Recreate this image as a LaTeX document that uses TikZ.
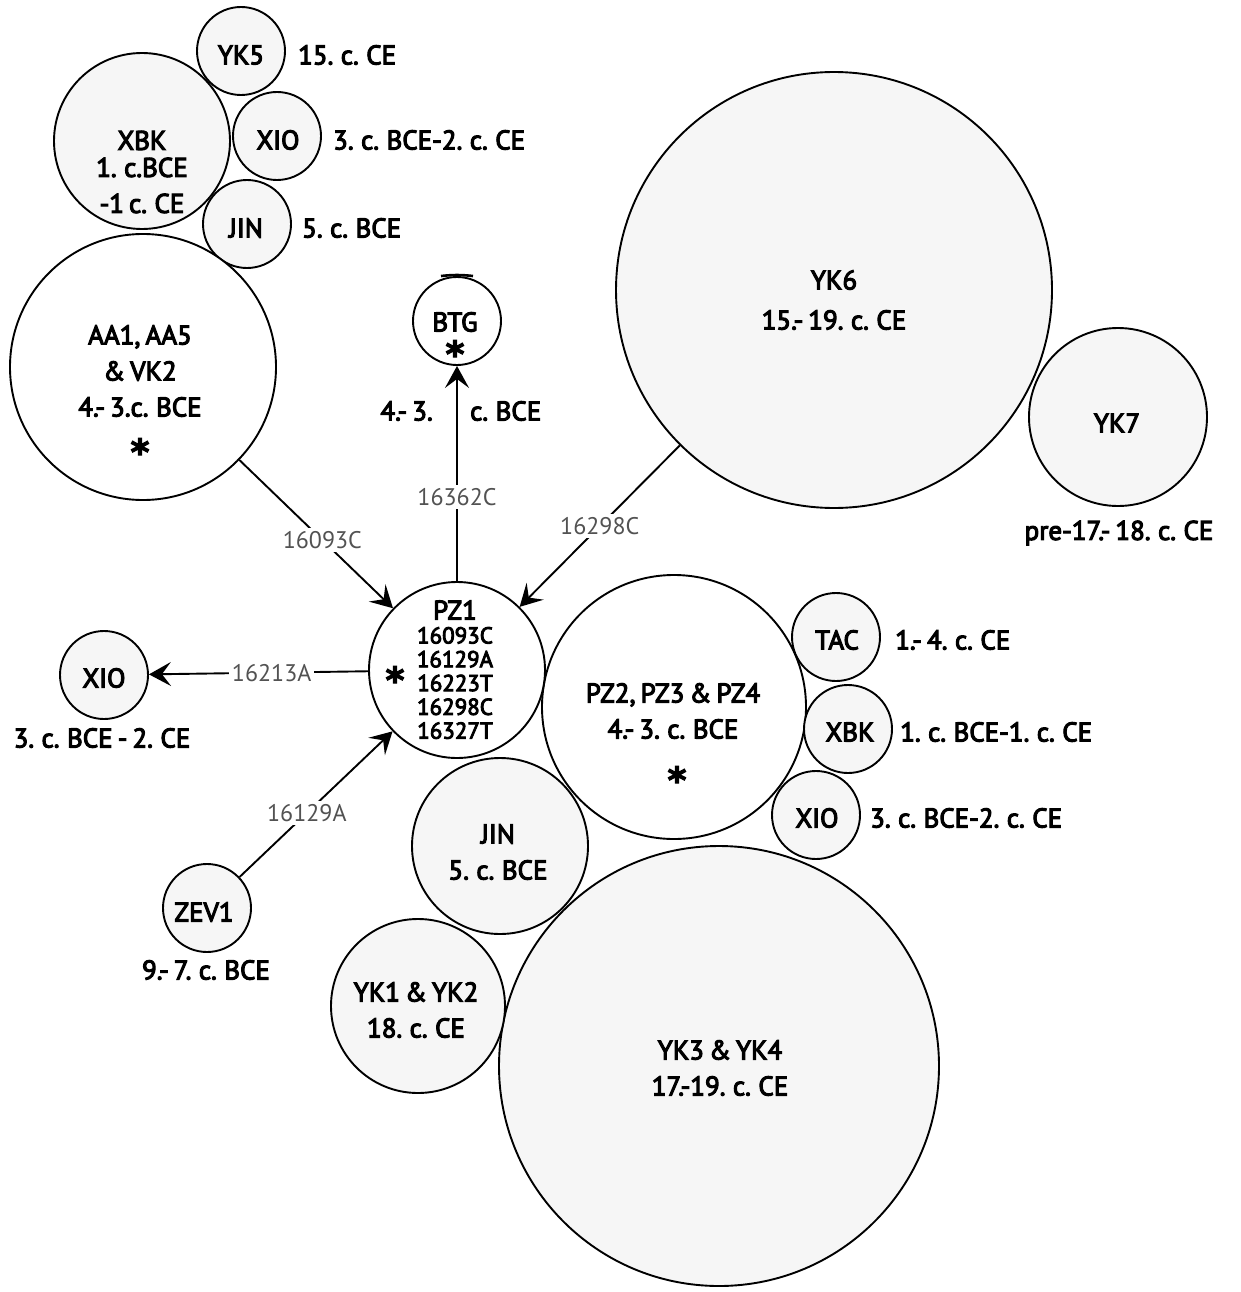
\documentclass[tikz,border=0pt]{standalone}
\usepackage{fontspec}
\setmainfont{PT Sans}[WordSpace=0.7, FakeBold=4]
\newfontfamily\mutfam{PT Sans}
\newfontfamily\starfam{DejaVu Sans Bold}[FakeBold=3]
\usetikzlibrary{arrows.meta}
\definecolor{bubble}{gray}{0.965}
\definecolor{mutgray}{gray}{0.32}
\newcommand\labfont{\fontsize{27}{36}\selectfont}
\newcommand\bigsepfont{\fontsize{27}{40}\selectfont}
\newcommand\numfont{\fontsize{23}{23.8}\selectfont}
\newcommand\mutfont{\mutfam\fontsize{24}{24}\selectfont}
\newcommand\starfont{\starfam\fontsize{36}{36}\selectfont}
\tikzset{
  bub/.style={circle, draw, line width=1.9pt, inner sep=0pt, fill=bubble},
  wbub/.style={bub, fill=white},
  lab/.style={font=\labfont, inner sep=0pt, align=center},
  side/.style={lab, anchor=west},
  nums/.style={font=\numfont, inner sep=0pt, align=center},
  mut/.style={font=\mutfont, text=mutgray, fill=white, inner sep=3pt},
  arr/.style={line width=1.9pt, -{Stealth[length=22pt,width=24pt,inset=9pt]}},
  star/.style={font=\starfont, inner sep=0pt, anchor=base},
}
\begin{document}
\begin{tikzpicture}[x=1pt, y=-1pt]
\useasboundingbox (0,0) rectangle (1240,1292);

% ---------- circles ----------
\node[bub,  minimum size=176pt] (xbkt) at (142,141) {};
\node[bub,  minimum size=88pt]  (yk5)  at (241,51)  {};
\node[bub,  minimum size=88pt]  (xiot) at (277,136) {};
\node[bub,  minimum size=88pt]  (jint) at (247,224) {};
\node[wbub, minimum size=266pt] (aa1)  at (143,367) {};
\node[wbub, minimum size=88pt]  (btg)  at (457,321) {};
\node[bub,  minimum size=436pt] (yk6)  at (834,290) {};
\node[bub,  minimum size=178pt] (yk7)  at (1118,417) {};
\node[bub,  minimum size=88pt]  (xiol) at (104,675) {};
\node[bub,  minimum size=88pt]  (zev1) at (207,908) {};
\node[bub,  minimum size=440pt] (yk3)  at (719,1066) {};
\node[bub,  minimum size=174pt] (yk1)  at (418,1006) {};
\node[bub,  minimum size=176pt] (jinb) at (500,846) {};
\node[wbub, minimum size=264pt] (pz2)  at (674,707) {};
\node[bub,  minimum size=88pt]  (tac)  at (836,637) {};
\node[bub,  minimum size=88pt]  (xbkr) at (848,729) {};
\node[bub,  minimum size=88pt]  (xior) at (816,815) {};
\node[wbub, minimum size=176pt] (pz1)  at (457,670) {};

% small mark on top of BTG
\draw[line width=2.6pt] (441,276) to[bend left=6] (473,276);

% ---------- texts inside circles ----------
\node[lab] (yk5-t)  at (241,55)  {YK5};
\node[lab] (xbkt-t) at (142,172) {XBK\\[-9pt]1. c.BCE\\-1 c. CE};
\node[lab] (xiot-t) at (278,140) {XIO};
\node[lab] (jint-t) at (246,228) {JIN};
\node[lab] (aa1-t)  at (140,371) {AA1, AA5\\\& VK2\\4.- 3.c. BCE};
\node[star] (aa1-s) at (140,465) {*};
\node[lab] (btg-t)  at (455,322) {BTG};
\node[star] (btg-s) at (455,367) {*};
\node[lab, font=\bigsepfont] (yk6-t) at (834,300) {YK6\\15.- 19. c. CE};
\node[lab] (yk7-t)  at (1117,423) {YK7};
\node[lab] (pz1-n)  at (455,610) {PZ1};
\node[nums] (pz1-l) at (455,683) {16093C\\16129A\\16223T\\16298C\\16327T};
\node[star] (pz1-s) at (395,693) {*};
\node[lab] (xiol-t) at (104,678) {XIO};
\node[lab] (zev1-t) at (204,912) {ZEV1};
\node[lab] (pz2-t)  at (673,711) {PZ2, PZ3 \& PZ4\\4.- 3. c. BCE};
\node[star] (pz2-s) at (677,793) {*};
\node[lab] (tac-t)  at (837,640) {TAC};
\node[lab] (xbkr-t) at (850,732) {XBK};
\node[lab] (xior-t) at (817,818) {XIO};
\node[lab] (jinb-t) at (498,852) {JIN\\5. c. BCE};
\node[lab] (yk1-t)  at (416,1010) {YK1 \& YK2\\18. c. CE};
\node[lab] (yk3-t)  at (720,1068) {YK3 \& YK4\\17.-19. c. CE};

% ---------- date labels beside circles ----------
\node[side] (yk5-d)  at (298,55)  {15. c. CE};
\node[side] (xiot-d) at (333,140) {3. c. BCE-2. c. CE};
\node[side] (jint-d) at (302,228) {5. c. BCE};
\node[lab, anchor=east] (btg-d1) at (433,411) {4.- 3.};
\node[side] (btg-d2) at (470,411) {c. BCE};
\node[lab] (yk7-d)  at (1119,533) {pre-17.- 18. c. CE};
\node[lab] (xiol-d) at (102,738) {3. c. BCE - 2. CE};
\node[lab] (zev1-d) at (206,970) {9.- 7. c. BCE};
\node[side] (tac-d)  at (895,640) {1.- 4. c. CE};
\node[side] (xbkr-d) at (900,732) {1. c. BCE-1. c. CE};
\node[side] (xior-d) at (870,818) {3. c. BCE-2. c. CE};

% ---------- connectors ----------
\draw[arr] (aa1) -- node[mut, pos=0.54] {16093C} (pz1);
\draw[arr] (pz1) -- node[mut, pos=0.39] {16362C} (btg);
\draw[arr] (yk6) -- node[mut, pos=0.5] {16298C} (pz1);
\draw[arr] (zev1) -- node[mut, pos=0.44] {16129A} (pz1);
\draw[arr] (pz1) -- node[mut, pos=0.44] {16213A} (xiol);
\end{tikzpicture}
\end{document}
